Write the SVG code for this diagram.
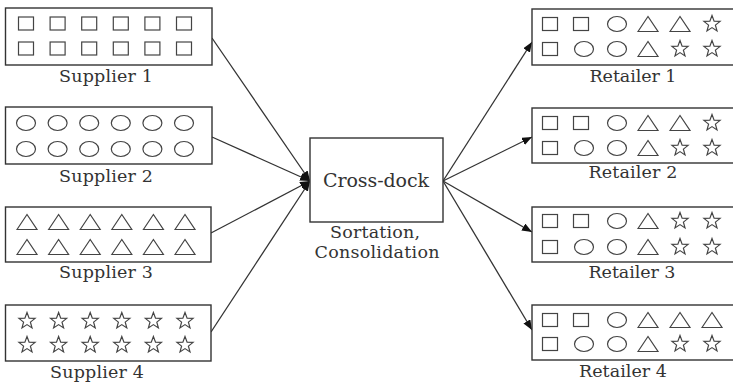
<svg xmlns="http://www.w3.org/2000/svg" xmlns:xlink="http://www.w3.org/1999/xlink" width="733" height="382" viewBox="0 0 733 382">
<style>
.box{fill:#fff;stroke:#333;stroke-width:1.4}
.sh{fill:none;stroke:#444;stroke-width:1.2}
.lbl{font-family:"DejaVu Serif","Liberation Serif",serif;font-size:17.5px;fill:#333;text-anchor:middle}
.big{font-size:19px}
.con{stroke:#333;stroke-width:1.3;fill:none}
</style>
<defs>
<rect id="sq" class="sh" x="-7.5" y="-6.5" width="15" height="13"/>
<ellipse id="ci" class="sh" cx="0" cy="0" rx="9.5" ry="7.5"/>
<polygon id="tr" class="sh" points="-10,7.5 0,-7.5 10,7.5"/>
<polygon id="st" class="sh" points="0,-8.5 2.12,-2.91 8.08,-2.63 3.42,1.11 5,6.88 0,3.6 -5,6.88 -3.42,1.11 -8.08,-2.63 -2.12,-2.91"/>
<marker id="ah" viewBox="0 0 10 8" refX="10" refY="4" markerWidth="10" markerHeight="8" markerUnits="userSpaceOnUse" orient="auto">
<path d="M0,0 L10,4 L0,8 z" fill="#111"/>
</marker>
</defs>
<g id="connectors">
<line class="con" x1="212" y1="38" x2="310" y2="181" marker-end="url(#ah)"/>
<line class="con" x1="212" y1="137" x2="310" y2="181" marker-end="url(#ah)"/>
<line class="con" x1="211" y1="233" x2="310" y2="181" marker-end="url(#ah)"/>
<line class="con" x1="211" y1="332" x2="310" y2="181" marker-end="url(#ah)"/>
<line class="con" x1="443" y1="181" x2="532" y2="42" marker-end="url(#ah)"/>
<line class="con" x1="443" y1="181" x2="532" y2="137" marker-end="url(#ah)"/>
<line class="con" x1="443" y1="181" x2="532" y2="232" marker-end="url(#ah)"/>
<line class="con" x1="443" y1="181" x2="532" y2="330" marker-end="url(#ah)"/>
</g>
<g id="supplier1">
<rect class="box" x="5.5" y="8" width="206.5" height="57"/>
<use xlink:href="#sq" x="26" y="23.5"/><use xlink:href="#sq" x="57.6" y="23.5"/><use xlink:href="#sq" x="89.2" y="23.5"/><use xlink:href="#sq" x="120.8" y="23.5"/><use xlink:href="#sq" x="152.4" y="23.5"/><use xlink:href="#sq" x="184" y="23.5"/>
<use xlink:href="#sq" x="26" y="48.5"/><use xlink:href="#sq" x="57.6" y="48.5"/><use xlink:href="#sq" x="89.2" y="48.5"/><use xlink:href="#sq" x="120.8" y="48.5"/><use xlink:href="#sq" x="152.4" y="48.5"/><use xlink:href="#sq" x="184" y="48.5"/>
<text class="lbl" x="106" y="82" textLength="94">Supplier 1</text>
</g>
<g id="supplier2">
<rect class="box" x="5.5" y="107" width="206.5" height="57"/>
<use xlink:href="#ci" x="26" y="123"/><use xlink:href="#ci" x="57.6" y="123"/><use xlink:href="#ci" x="89.2" y="123"/><use xlink:href="#ci" x="120.8" y="123"/><use xlink:href="#ci" x="152.4" y="123"/><use xlink:href="#ci" x="184" y="123"/>
<use xlink:href="#ci" x="26" y="149"/><use xlink:href="#ci" x="57.6" y="149"/><use xlink:href="#ci" x="89.2" y="149"/><use xlink:href="#ci" x="120.8" y="149"/><use xlink:href="#ci" x="152.4" y="149"/><use xlink:href="#ci" x="184" y="149"/>
<text class="lbl" x="106" y="182" textLength="94">Supplier 2</text>
</g>
<g id="supplier3">
<rect class="box" x="5.5" y="207" width="205.5" height="55"/>
<use xlink:href="#tr" x="27" y="222"/><use xlink:href="#tr" x="58.6" y="222"/><use xlink:href="#tr" x="90.2" y="222"/><use xlink:href="#tr" x="121.8" y="222"/><use xlink:href="#tr" x="153.4" y="222"/><use xlink:href="#tr" x="185" y="222"/>
<use xlink:href="#tr" x="27" y="247"/><use xlink:href="#tr" x="58.6" y="247"/><use xlink:href="#tr" x="90.2" y="247"/><use xlink:href="#tr" x="121.8" y="247"/><use xlink:href="#tr" x="153.4" y="247"/><use xlink:href="#tr" x="185" y="247"/>
<text class="lbl" x="106" y="278" textLength="94">Supplier 3</text>
</g>
<g id="supplier4">
<rect class="box" x="5.5" y="305" width="205.5" height="56"/>
<use xlink:href="#st" x="27" y="321"/><use xlink:href="#st" x="58.6" y="321"/><use xlink:href="#st" x="90.2" y="321"/><use xlink:href="#st" x="121.8" y="321"/><use xlink:href="#st" x="153.4" y="321"/><use xlink:href="#st" x="185" y="321"/>
<use xlink:href="#st" x="27" y="345"/><use xlink:href="#st" x="58.6" y="345"/><use xlink:href="#st" x="90.2" y="345"/><use xlink:href="#st" x="121.8" y="345"/><use xlink:href="#st" x="153.4" y="345"/><use xlink:href="#st" x="185" y="345"/>
<text class="lbl" x="97" y="378" textLength="94">Supplier 4</text>
</g>
<g id="crossdock">
<rect class="box" x="310" y="138" width="133" height="84"/>
<text class="lbl big" x="376" y="187" textLength="106">Cross-dock</text>
<text class="lbl" x="375" y="238" textLength="90">Sortation,</text>
<text class="lbl" x="377" y="258" textLength="125">Consolidation</text>
</g>
<g id="retailer1">
<rect class="box" x="532" y="9" width="210" height="56"/>
<use xlink:href="#sq" x="550" y="24"/><use xlink:href="#sq" x="581" y="24"/><use xlink:href="#ci" x="617" y="24"/><use xlink:href="#tr" x="648" y="24"/><use xlink:href="#tr" x="680" y="24"/><use xlink:href="#st" x="712" y="24"/>
<use xlink:href="#sq" x="550" y="49"/><use xlink:href="#ci" x="584" y="49"/><use xlink:href="#ci" x="617" y="49"/><use xlink:href="#tr" x="648" y="49"/><use xlink:href="#st" x="680" y="49"/><use xlink:href="#st" x="712" y="49"/>
<text class="lbl" x="633" y="82" textLength="87">Retailer 1</text>
</g>
<g id="retailer2">
<rect class="box" x="532" y="108" width="210" height="55"/>
<use xlink:href="#sq" x="550" y="123"/><use xlink:href="#sq" x="581" y="123"/><use xlink:href="#ci" x="617" y="123"/><use xlink:href="#tr" x="648" y="123"/><use xlink:href="#tr" x="680" y="123"/><use xlink:href="#st" x="712" y="123"/>
<use xlink:href="#sq" x="550" y="148"/><use xlink:href="#ci" x="584" y="148"/><use xlink:href="#ci" x="617" y="148"/><use xlink:href="#tr" x="648" y="148"/><use xlink:href="#st" x="680" y="148"/><use xlink:href="#st" x="712" y="148"/>
<text class="lbl" x="633" y="178" textLength="89">Retailer 2</text>
</g>
<g id="retailer3">
<rect class="box" x="532" y="207" width="210" height="55"/>
<use xlink:href="#sq" x="550" y="221"/><use xlink:href="#sq" x="581" y="221"/><use xlink:href="#ci" x="617" y="221"/><use xlink:href="#tr" x="648" y="221"/><use xlink:href="#st" x="680" y="221"/><use xlink:href="#st" x="712" y="221"/>
<use xlink:href="#sq" x="550" y="247"/><use xlink:href="#ci" x="584" y="247"/><use xlink:href="#ci" x="617" y="247"/><use xlink:href="#tr" x="648" y="247"/><use xlink:href="#st" x="680" y="247"/><use xlink:href="#st" x="712" y="247"/>
<text class="lbl" x="632" y="278" textLength="87">Retailer 3</text>
</g>
<g id="retailer4">
<rect class="box" x="532" y="305" width="210" height="55"/>
<use xlink:href="#sq" x="550" y="320"/><use xlink:href="#sq" x="581" y="320"/><use xlink:href="#ci" x="617" y="320"/><use xlink:href="#tr" x="648" y="320"/><use xlink:href="#tr" x="680" y="320"/><use xlink:href="#tr" x="712" y="320"/>
<use xlink:href="#sq" x="550" y="344"/><use xlink:href="#ci" x="584" y="344"/><use xlink:href="#ci" x="617" y="344"/><use xlink:href="#tr" x="648" y="344"/><use xlink:href="#st" x="680" y="344"/><use xlink:href="#st" x="712" y="344"/>
<text class="lbl" x="623" y="377" textLength="88">Retailer 4</text>
</g>
</svg>
